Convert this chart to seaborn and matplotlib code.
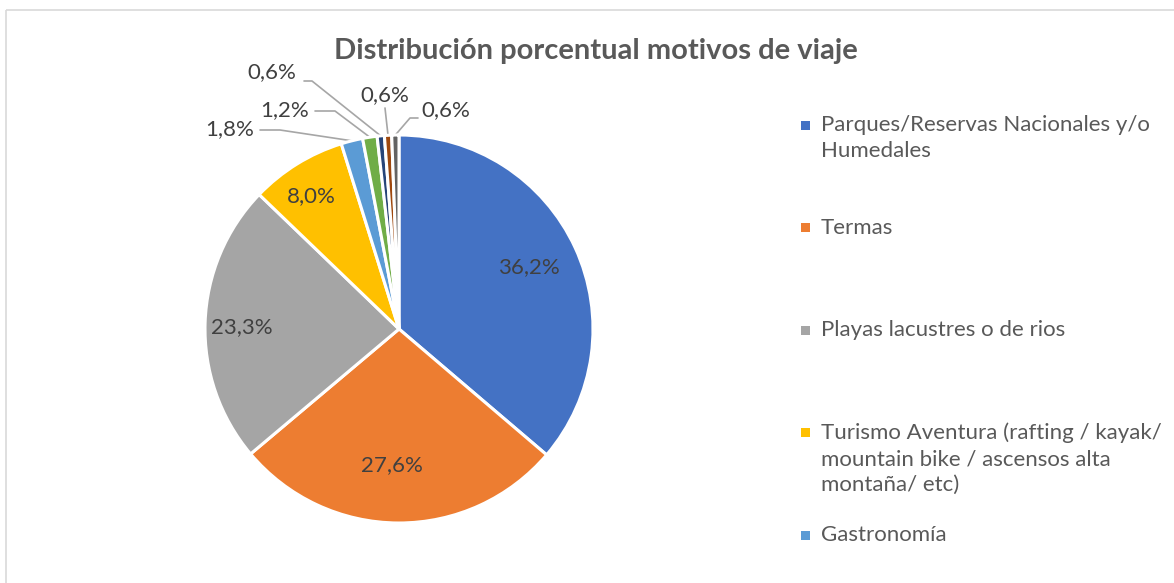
import matplotlib
matplotlib.use("Agg")
import matplotlib.pyplot as plt
import seaborn as sns
import numpy as np
from matplotlib.patches import Rectangle

sns.set_theme(style="white")
plt.rcParams["font.family"] = ["Lato", "DejaVu Sans"]

# data
motivos = [
    "Parques/Reservas Nacionales y/o\nHumedales",
    "Termas",
    "Playas lacustres o de rios",
    "Turismo Aventura (rafting / kayak/\nmountain bike / ascensos alta\nmontaña/ etc)",
    "Gastronomía",
    "Otro 1",
    "Otro 2",
    "Otro 3",
    "Otro 4",
]
porcentajes = [36.2, 27.6, 23.3, 8.0, 1.8, 1.2, 0.6, 0.6, 0.6]
colores = ["#4472C4", "#ED7D31", "#A5A5A5", "#FFC000", "#5B9BD5",
           "#70AD47", "#264478", "#9E480E", "#636363"]
n_legend = 5  # excel only shows the first five

W, H = 1174, 583
fig = plt.figure(figsize=(W / 100, H / 100), dpi=100)

# overlay axis in pixel coords for frame + legend
ov = fig.add_axes([0, 0, 1, 1])
ov.set_xlim(0, W)
ov.set_ylim(H, 0)
ov.axis("off")
ov.add_patch(Rectangle((5.5, 9.5), W + 10, H + 10, fill=False, ec="#D9D9D9", lw=1.2))

# pie axis: centre (399, 329) px, radius 194 px
cx, cy, r = 399, 329, 194
ax = fig.add_axes([0, 0, 790 / W, 1])
ax.set_zorder(2)
wedges, _ = ax.pie(porcentajes, colors=colores, startangle=90, counterclock=False,
                   wedgeprops=dict(edgecolor="white", linewidth=2.2))
ax.set_aspect("auto")
ax.set_xlim(-cx / r, (790 - cx) / r)
ax.set_ylim(-(H - cy) / r, cy / r)
ax.axis("off")

def px(x, y):
    return ((x - cx) / r, (cy - y) / r)

fs = 16

# inside labels
inside = {0: (529, 267), 1: (392, 465), 2: (242, 327), 3: (311, 196)}
for i, (x, y) in inside.items():
    ax.text(*px(x, y), f"{porcentajes[i]:.1f}%".replace(".", ","), ha="center", va="center",
            fontsize=fs, color="#404040")

# outside labels with leader lines
outside = {4: (230, 129), 5: (285, 110), 6: (272, 72), 7: (385, 95), 8: (446, 110)}
for i, (x, y) in outside.items():
    w = wedges[i]
    ang = np.deg2rad((w.theta1 + w.theta2) / 2)
    tip = (np.cos(ang) * 1.0, np.sin(ang) * 1.0)
    lx, ly = px(x, y)
    txt = f"{porcentajes[i]:.1f}%".replace(".", ",")
    ax.text(lx, ly, txt, ha="center", va="center", fontsize=fs, color="#404040")
    # leader line
    if i in (4, 5):
        start = px(x + 30, y + 1)
        mid = px(x + 50, y + 1)
    elif i == 6:
        start = px(x + 32, y + 9)
        mid = px(x + 40, y + 9)
    elif i == 7:
        start = px(x, y + 13)
        mid = px(x, y + 13)
    else:
        start = px(x - 28, y + 8)
        mid = px(x - 36, y + 8)
    ax.plot([start[0], mid[0], tip[0]], [start[1], mid[1], tip[1]],
            color="#A6A6A6", lw=1.2, zorder=0)

# title
fig.text(596 / W, 1 - 51 / H, "Distribución porcentual motivos de viaje",
         ha="center", va="center", fontsize=21, fontweight="bold", color="#595959")

# legend, drawn by hand like the excel layout
for i in range(n_legend):
    y = 125 + 102.5 * i
    ov.add_patch(Rectangle((801, y - 4.5), 9, 9, color=colores[i], lw=0))
    ov.text(821, y - 10, motivos[i], ha="left", va="top", fontsize=fs,
            color="#595959", linespacing=1.38)

fig.savefig("out.png", dpi=100)
